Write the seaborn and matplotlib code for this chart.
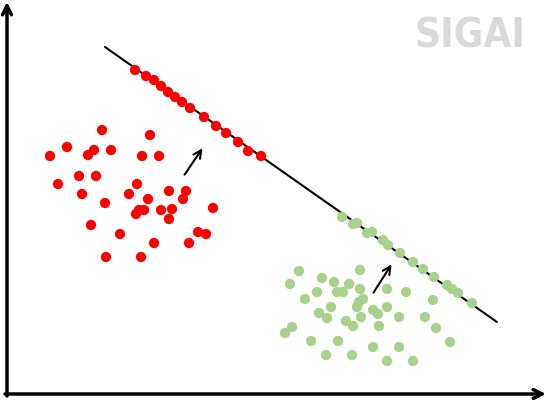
import pandas as pd
import matplotlib.pyplot as plt
import seaborn as sns

# pixel-like coordinates (y grows downward)
red_x = [50, 67, 88, 94, 102, 111, 150, 142, 159, 58, 79, 96, 82, 105, 137, 129, 148, 169,
         186, 183, 136, 139, 144, 161, 172, 169, 213, 91, 120, 154, 198, 206, 189, 106, 141]
red_y = [156, 147, 155, 150, 130, 150, 135, 156, 156, 184, 176, 176, 194, 203, 184, 194, 199, 191,
         191, 199, 214, 210, 210, 210, 209, 219, 208, 225, 234, 243, 232, 234, 243, 257, 257]

green_x = [299, 290, 322, 334, 349, 360, 317, 337, 343, 360, 305, 363, 359, 387, 406, 433, 331,
           357, 387, 319, 327, 373, 378, 361, 346, 353, 399, 425, 379, 436, 292, 285, 311, 338,
           373, 399, 450, 326, 352, 387, 413]
green_y = [271, 284, 278, 282, 284, 270, 292, 292, 292, 289, 299, 299, 302, 289, 292, 300, 307,
           307, 307, 313, 318, 310, 314, 317, 321, 326, 317, 317, 326, 328, 327, 333, 341, 341,
           347, 347, 342, 355, 355, 361, 361]

red_proj_x = [135, 146, 154, 161, 168, 175, 182, 190, 204, 216, 226, 238, 248, 261]
red_proj_y = [70, 76, 80, 86, 92, 97, 102, 108, 117, 126, 133, 142, 151, 156]

green_proj_x = [342, 353, 357, 367, 372, 383, 388, 400, 413, 423, 434, 447, 452, 458, 472]
green_proj_y = [217, 224, 223, 233, 232, 240, 245, 253, 262, 269, 277, 285, 289, 293, 303]

line_x = [105, 497]
line_y = [47, 322]

# small arrows: (start, end)
arrows = [((183, 177), (204, 146)), ((372, 295), (393, 262))]

RED = "#ff0000"
GREEN = "#a9d18e"

sns.set_style("white")

fig = plt.figure(figsize=(5.47, 4.0), dpi=100)
ax = fig.add_axes([0, 0, 1, 1])
ax.set_xlim(0, 547)
ax.set_ylim(400, 0)
ax.axis("off")

sns.lineplot(x=line_x, y=line_y, color="black", lw=1.5, ax=ax, sort=False, zorder=1)

pts = pd.concat([
    pd.DataFrame({"x": red_x, "y": red_y, "c": "red"}),
    pd.DataFrame({"x": red_proj_x, "y": red_proj_y, "c": "red"}),
    pd.DataFrame({"x": green_x, "y": green_y, "c": "green"}),
    pd.DataFrame({"x": green_proj_x, "y": green_proj_y, "c": "green"}),
])
sns.scatterplot(data=pts, x="x", y="y", hue="c", palette={"red": RED, "green": GREEN},
                s=55, linewidth=0, legend=False, ax=ax, zorder=2)

for (x0, y0), (x1, y1) in arrows:
    ax.annotate("", xy=(x1, y1), xytext=(x0, y0),
                arrowprops=dict(arrowstyle="->", color="black", lw=1.5,
                                mutation_scale=14))

# coordinate axes with arrow heads
ax.annotate("", xy=(7, 2), xytext=(7, 396),
            arrowprops=dict(arrowstyle="->", color="black", lw=2.5, mutation_scale=16,
                            shrinkA=0, shrinkB=0))
ax.annotate("", xy=(546, 394), xytext=(5, 394),
            arrowprops=dict(arrowstyle="->", color="black", lw=2.5, mutation_scale=16,
                            shrinkA=0, shrinkB=0))

ax.text(470, 36, "SIGAI", ha="center", va="center", color="#d9d9d9",
        fontsize=29, fontweight="bold", fontstretch="condensed",
        family=["DejaVu Sans", "Liberation Sans"])

fig.savefig("out.png", dpi=100)
